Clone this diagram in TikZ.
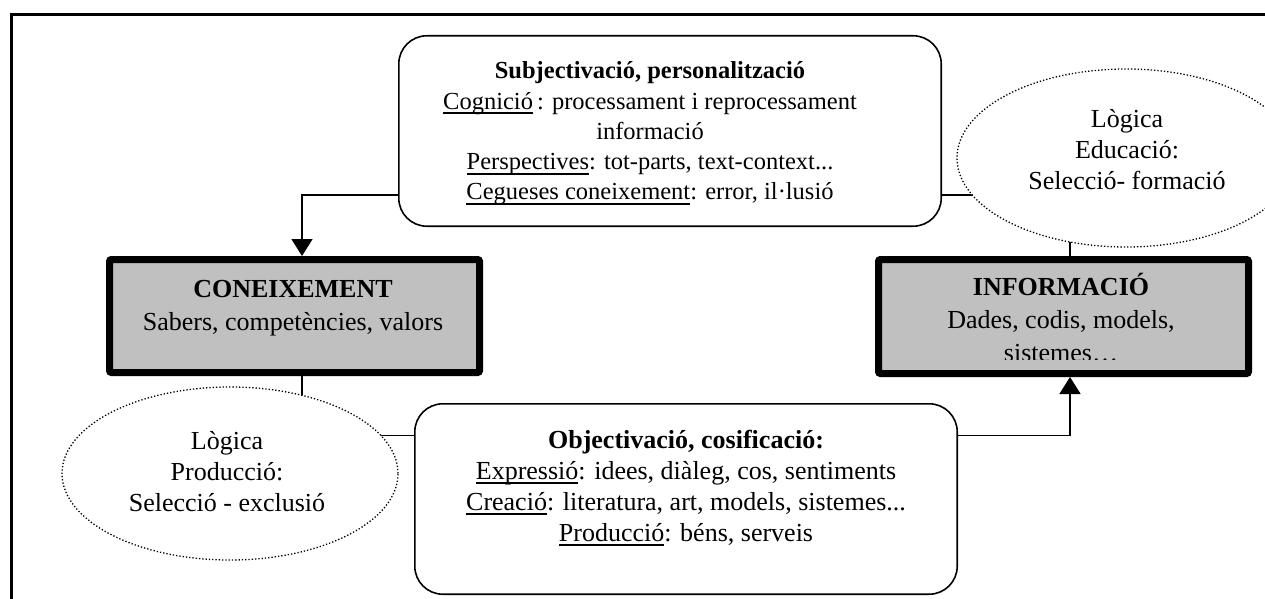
\documentclass[tikz,border=0pt]{standalone}
\usepackage{fontspec}
\setmainfont{Liberation Serif}
\usetikzlibrary{arrows.meta,shapes.geometric,backgrounds}
\newsavebox\ulbox
\newcommand\myul[1]{\sbox\ulbox{#1}\rlap{\rule[-5pt]{\wd\ulbox}{2pt}}\usebox\ulbox}
\definecolor{boxgray}{HTML}{C0C0C0}
\tikzset{
  roundbox/.style={draw, line width=1.6pt, fill=white, rounded corners=28pt,
    minimum width=542.4pt, minimum height=190.4pt, inner sep=0pt, outer sep=0pt},
  mainbox/.style={draw, line width=7pt, fill=boxgray, rounded corners=2pt,
    inner sep=0pt},
  dotell/.style={ellipse, draw, fill=white, line width=1.3pt,
    dash pattern=on 1.3pt off 2pt, inner sep=0pt, outer sep=0pt},
  conn/.style={line width=1.5pt},
  arrowconn/.style={conn, -{Triangle[width=21pt,length=17pt]}},
  txt/.style={align=center, inner sep=0pt, font=\fontsize{26}{31}\selectfont},
  toptxt/.style={align=center, inner sep=0pt, font=\fontsize{24.5}{30.2}\selectfont},
  maintxt/.style={align=center, inner sep=0pt, font=\fontsize{26}{33}\selectfont},
}
\begin{document}
\begin{tikzpicture}[x=1pt,y=-1pt]
\useasboundingbox (0,0) rectangle (1265,599);
\clip (0,0) rectangle (1265,599);
% outer frame (cut by the page)
\draw[line width=3pt] (11.5,640) -- (11.5,14.5) -- (1300,14.5);

% helper coordinates for connector levels
\coordinate (tl) at (0,195);
\coordinate (bl) at (0,435.5);
\coordinate (xl) at (302,0);
\coordinate (xr) at (1070,0);

% main boxes
\node[mainbox, minimum width=370pt, minimum height=113pt] (con) at (294.5,316) {};
\node[maintxt] (contxt) at (293,307.7) {\textbf{CONEIXEMENT}\\Sabers, competències, valors};

\node[mainbox, minimum width=370pt, minimum height=114pt] (inf) at (1063.5,316.5) {};
\begin{scope}
  \clip (880,262) rectangle (1247,359.5);
  \node[maintxt] (inftxt) at (1061,318) {\textbf{INFORMACIÓ}\\Dades, codis, models,\\sistemes…};
\end{scope}

% rounded boxes
\node[roundbox] (topbox) at (670,131) {};
\node[toptxt] (toptext) at (650,133.5) {\textbf{Subjectivació, personalització}\\
  \myul{Cognició}\,: processament i reprocessament\\
  informació\\
  \myul{Perspectives}: tot-parts, text-context...\\
  \myul{Cegueses coneixement}: error, il·lusió};

\node[roundbox] (botbox) at (686,499) {};
\node[txt] (bottext) at (686,488) {\textbf{Objectivació, cosificació:}\\
  \myul{Expressió}: idees, diàleg, cos, sentiments\\
  \myul{Creació}: literatura, art, models, sistemes...\\
  \myul{Producció}: béns, serveis};

% dotted ellipses
\node[dotell, minimum width=338pt, minimum height=178pt] (ellTR) at (1126,158) {};
\node[txt] (elltrtxt) at (1127,149.5) {Lògica\\Educació:\\Selecció- formació};

\node[dotell, minimum width=336pt, minimum height=173pt] (ellBL) at (230,473.5) {};
\node[txt] (ellbltxt) at (227,471.2) {Lògica\\Producció:\\Selecció - exclusió};

% connectors (behind the shapes)
\begin{pgfonlayer}{background}
  \draw[conn] (topbox.east |- tl) -- (ellTR.center |- tl);
  \draw[conn] (xr |- ellTR.center) -- (xr |- inf.north);
  \draw[conn] (xl |- con.south) -- (xl |- ellBL.center);
  \draw[conn] (ellBL.center |- bl) -- (botbox.west |- bl);
\end{pgfonlayer}
\draw[arrowconn] (topbox.west |- tl) -| (xl |- con.north);
\draw[arrowconn] (botbox.east |- bl) -| (xr |- inf.south);
\end{tikzpicture}
\end{document}
